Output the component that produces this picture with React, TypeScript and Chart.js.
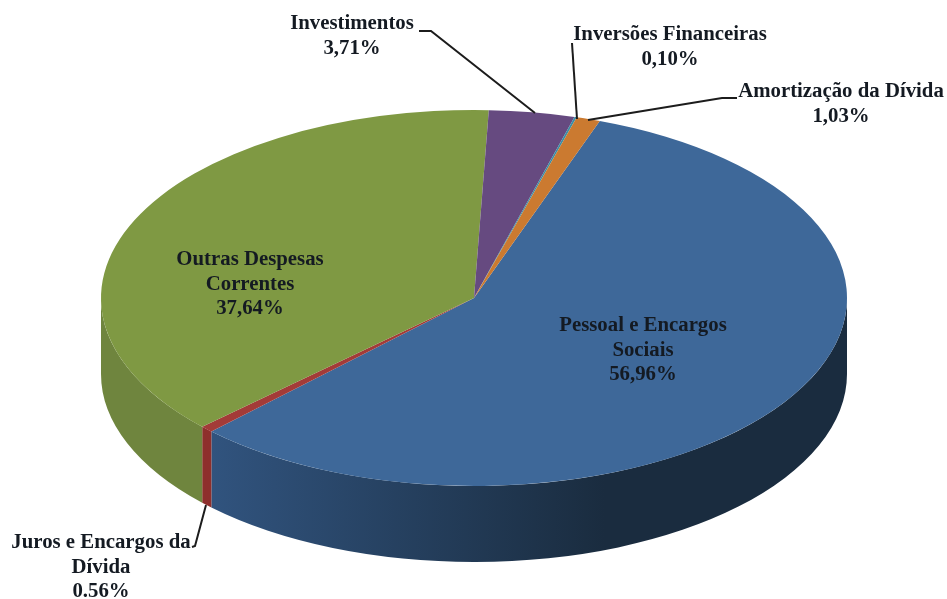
import React, { useEffect, useRef } from "react";
import { Chart, registerables } from "chart.js";

Chart.register(...registerables);

const categories = [
  "Pessoal e Encargos Sociais",
  "Juros e Encargos da Dívida",
  "Outras Despesas Correntes",
  "Investimentos",
  "Inversões Financeiras",
  "Amortização da Dívida",
];
const values = [56.96, 0.56, 37.64, 3.71, 0.1, 1.03];
const topColors = ["#3e6899", "#a33b38", "#7f9943", "#664a80", "#3b8ea6", "#cb7a30"];
const sideStart = ["#31547f", "#8e2f2c", "#6f853e", "#54406a", "#30768a", "#a86528"];
const sideEnd = ["#1a2c3f", "#8e2f2c", "#70863f", "#54406a", "#30768a", "#a86528"];

const textLabels = [
  { lines: ["Investimentos", "3,71%"], x: 352, y: 24 },
  { lines: ["Inversões Financeiras", "0,10%"], x: 670, y: 35 },
  { lines: ["Amortização da Dívida", "1,03%"], x: 841, y: 92 },
  { lines: ["Juros e Encargos da", "Dívida", "0.56%"], x: 101, y: 543 },
  { lines: ["Outras Despesas", "Correntes", "37,64%"], x: 250, y: 260 },
  { lines: ["Pessoal e Encargos", "Sociais", "56,96%"], x: 643, y: 326 },
];
const leaders = [
  [[419, 31], [431, 31], [535, 113]],
  [[572, 43], [577, 119]],
  [[737, 98], [722, 98], [588, 120]],
  [[192, 547], [195, 546], [206, 505]],
];

const RADIUS_X = 373;
const DEPTH = 76;
const LINE_HEIGHT = 24.5;

const pie3d = {
  id: "pie3d",
  beforeDatasetsDraw(chart: any) {
    const { ctx } = chart;
    const arcs = chart.getDatasetMeta(0).data;
    const { x: cx, y: cy, outerRadius: ry } = arcs[0];
    const rx = RADIUS_X;
    arcs.forEach((arc: any, i: number) => {
      const full = Math.PI * 2;
      let a0 = arc.startAngle % full;
      let a1 = arc.endAngle % full;
      if (a1 < a0) a1 += full;
      if (a0 < 0 && a1 > 0) a0 = 0;
      const s = Math.max(a0, 0);
      const e = Math.min(a1, Math.PI);
      if (e <= s) return;
      const grad = ctx.createLinearGradient(cx - rx * 0.72, 0, cx + rx * 0.35, 0);
      grad.addColorStop(0, sideStart[i]);
      grad.addColorStop(1, sideEnd[i]);
      ctx.beginPath();
      ctx.ellipse(cx, cy, rx, ry, 0, s, e);
      ctx.ellipse(cx, cy + DEPTH, rx, ry, 0, e, s, true);
      ctx.closePath();
      ctx.fillStyle = grad;
      ctx.fill();
    });
    ctx.save();
    ctx.translate(cx, cy);
    ctx.scale(rx / ry, 1);
    ctx.translate(-cx, -cy);
  },
  afterDatasetsDraw(chart: any) {
    const { ctx } = chart;
    ctx.restore();
    ctx.save();
    ctx.strokeStyle = "#1c1c1c";
    ctx.lineWidth = 2;
    leaders.forEach((pts) => {
      ctx.beginPath();
      pts.forEach(([x, y], i) => (i ? ctx.lineTo(x, y) : ctx.moveTo(x, y)));
      ctx.stroke();
    });
    ctx.fillStyle = "#141a22";
    ctx.font = 'bold 20.8px "Liberation Serif"';
    ctx.textAlign = "center";
    ctx.textBaseline = "middle";
    textLabels.forEach((l) => {
      l.lines.forEach((t, i) => ctx.fillText(t, l.x, l.y + i * LINE_HEIGHT));
    });
    ctx.restore();
  },
};

export default function App() {
  const ref = useRef<HTMLCanvasElement>(null);
  useEffect(() => {
    const chart = new Chart(ref.current as HTMLCanvasElement, {
      type: "pie",
      data: {
        labels: categories,
        datasets: [{ data: values, backgroundColor: topColors, borderWidth: 0 }],
      },
      options: {
        responsive: false,
        animation: false,
        devicePixelRatio: 1,
        rotation: 19.7,
        layout: { padding: { left: 286, right: 285, top: 110, bottom: 113 } },
        plugins: { legend: { display: false }, tooltip: { enabled: false } },
      },
      plugins: [pie3d],
    } as any);
    return () => chart.destroy();
  }, []);
  return (
    <div style={{ position: "absolute", left: 0, top: 0, width: 947, height: 599, background: "#fff" }}>
      <canvas ref={ref} width={947} height={599} style={{ display: "block", filter: "blur(0.4px)" }} />
    </div>
  );
}
